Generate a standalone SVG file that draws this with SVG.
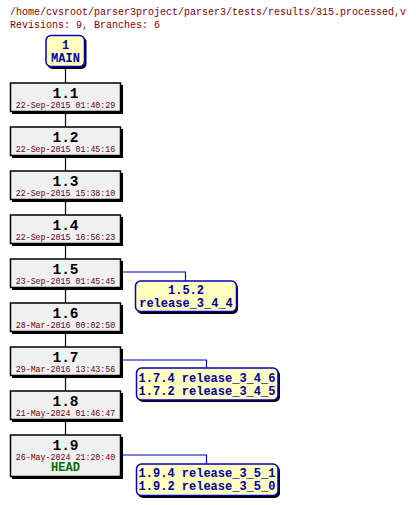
<svg xmlns="http://www.w3.org/2000/svg" width="416" height="505" viewBox="0 0 416 505">
<style>
text{font-family:"Liberation Mono","DejaVu Sans Mono",monospace}
.hdr{font-size:10px;fill:#800000}
.rev{fill:#f0f0f0;stroke:#000;stroke-width:1.5}
.sh{fill:#000}
.num{font-size:14.5px;font-weight:bold;fill:#000;text-anchor:middle}
.date{font-size:8.3px;fill:#600020;text-anchor:middle}
.br{fill:#ffffc0;stroke:#0000c0;stroke-width:1.5}
.bt{font-size:12px;font-weight:bold;fill:#0000a0;text-anchor:middle}
.head{font-size:12px;font-weight:bold;fill:#007000;text-anchor:middle}
.c{stroke:#000;stroke-width:1.2;fill:none}
.cb{stroke:#0000c0;stroke-width:1.2;fill:none}
</style>
<text class="hdr" x="10" y="15">/home/cvsroot/parser3project/parser3/tests/results/315.processed,v</text>
<text class="hdr" x="10" y="28">Revisions: 9, Branches: 6</text>
<g id="connectors">
<path class="c" d="M65.5 67V83M65.5 112V127M65.5 156V171M65.5 200V215M65.5 244V259M65.5 288V303M65.5 332V347M65.5 376V391M65.5 420V435"/>
<path class="cb" d="M121 272H185.5V281"/>
<path class="cb" d="M121 360H206.5V368"/>
<path class="cb" d="M121 455H206.5V464"/>
</g>
<g id="MAIN">
<rect class="sh" x="47.5" y="37" width="39" height="32" rx="5"/>
<rect class="br" x="46" y="35.5" width="38.5" height="31" rx="5"/>
<text class="bt" x="65.5" y="49">1</text>
<text class="bt" x="65.5" y="62">MAIN</text>
</g>
<g id="r1.1">
<rect class="sh" x="12" y="85" width="111" height="29"/>
<rect class="rev" x="10.5" y="83" width="110" height="28.5"/>
<text class="num" x="65.5" y="98">1.1</text>
<text class="date" x="65.5" y="107.5">22-Sep-2015 01:40:29</text>
</g>
<g id="r1.2">
<rect class="sh" x="12" y="129" width="111" height="29"/>
<rect class="rev" x="10.5" y="127" width="110" height="28.5"/>
<text class="num" x="65.5" y="142">1.2</text>
<text class="date" x="65.5" y="151.5">22-Sep-2015 01:45:16</text>
</g>
<g id="r1.3">
<rect class="sh" x="12" y="173" width="111" height="29"/>
<rect class="rev" x="10.5" y="171" width="110" height="28.5"/>
<text class="num" x="65.5" y="186">1.3</text>
<text class="date" x="65.5" y="195.5">22-Sep-2015 15:38:10</text>
</g>
<g id="r1.4">
<rect class="sh" x="12" y="217" width="111" height="29"/>
<rect class="rev" x="10.5" y="215" width="110" height="28.5"/>
<text class="num" x="65.5" y="230">1.4</text>
<text class="date" x="65.5" y="239.5">22-Sep-2015 16:56:23</text>
</g>
<g id="r1.5">
<rect class="sh" x="12" y="261" width="111" height="29"/>
<rect class="rev" x="10.5" y="259" width="110" height="28.5"/>
<text class="num" x="65.5" y="274">1.5</text>
<text class="date" x="65.5" y="283.5">23-Sep-2015 01:45:45</text>
</g>
<g id="r1.6">
<rect class="sh" x="12" y="305" width="111" height="29"/>
<rect class="rev" x="10.5" y="303" width="110" height="28.5"/>
<text class="num" x="65.5" y="318">1.6</text>
<text class="date" x="65.5" y="327.5">28-Mar-2016 00:02:50</text>
</g>
<g id="r1.7">
<rect class="sh" x="12" y="349" width="111" height="29"/>
<rect class="rev" x="10.5" y="347" width="110" height="28.5"/>
<text class="num" x="65.5" y="362">1.7</text>
<text class="date" x="65.5" y="371.5">29-Mar-2016 13:43:56</text>
</g>
<g id="r1.8">
<rect class="sh" x="12" y="393" width="111" height="29"/>
<rect class="rev" x="10.5" y="391" width="110" height="28.5"/>
<text class="num" x="65.5" y="406">1.8</text>
<text class="date" x="65.5" y="415.5">21-May-2024 01:46:47</text>
</g>
<g id="r1.9">
<rect class="sh" x="12" y="437" width="111" height="42"/>
<rect class="rev" x="10.5" y="435" width="110" height="41.5"/>
<text class="num" x="65.5" y="450">1.9</text>
<text class="date" x="65.5" y="459.5">26-May-2024 21:20:40</text>
<text class="head" x="65.5" y="471">HEAD</text>
</g>
<g id="b1.5.2">
<rect class="sh" x="137" y="283" width="101" height="31" rx="5"/>
<rect class="br" x="135.5" y="281" width="101" height="30.5" rx="5"/>
<text class="bt" x="186" y="293.5">1.5.2</text>
<text class="bt" x="186" y="306.5">release_3_4_4</text>
</g>
<g id="b1.7">
<rect class="sh" x="138" y="370" width="142" height="32" rx="5"/>
<rect class="br" x="136.5" y="368" width="141.5" height="32" rx="5"/>
<text class="bt" x="207" y="382">1.7.4 release_3_4_6</text>
<text class="bt" x="207" y="395">1.7.2 release_3_4_5</text>
</g>
<g id="b1.9">
<rect class="sh" x="138" y="466" width="142" height="32" rx="5"/>
<rect class="br" x="136.5" y="464" width="141.5" height="31.5" rx="5"/>
<text class="bt" x="207" y="477">1.9.4 release_3_5_1</text>
<text class="bt" x="207" y="490">1.9.2 release_3_5_0</text>
</g>
</svg>
